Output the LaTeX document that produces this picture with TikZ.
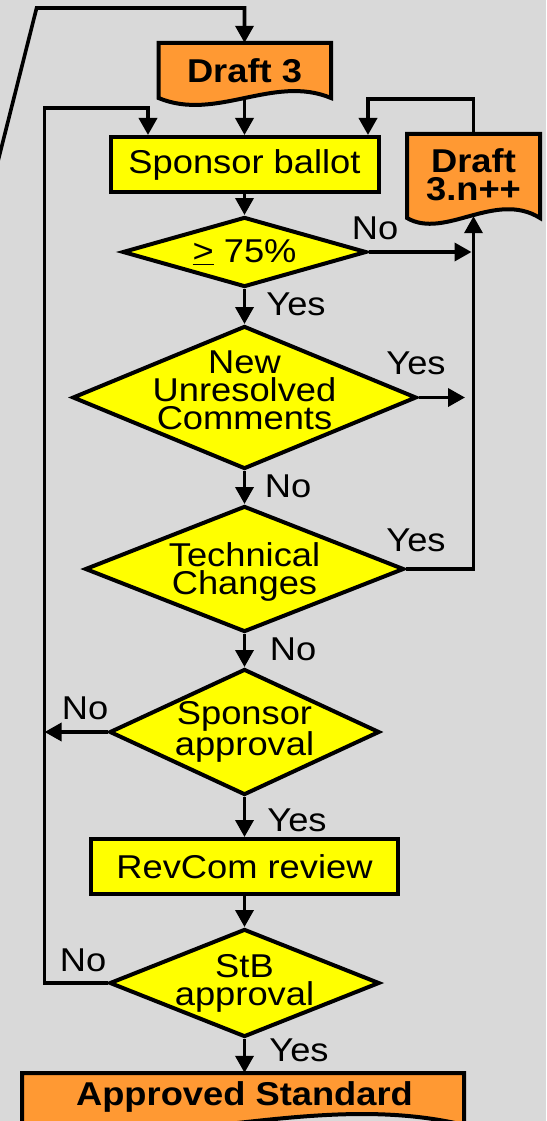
\documentclass[tikz,border=0pt]{standalone}
\usepackage{fontspec}
\setmainfont{Liberation Sans}[FakeStretch=1.1]
\usepackage{tikz}
\usetikzlibrary{arrows.meta,shapes.geometric}
\definecolor{bg}{HTML}{D9D9D9}
\definecolor{stepyellow}{HTML}{FFFF00}
\definecolor{docorange}{HTML}{FF9933}
\tikzset{
  line/.style={draw=black, line width=3.6pt},
  flow/.style={line, -{Triangle[length=17pt,width=18pt]}},
  procbox/.style={rectangle, draw=black, line width=4pt, fill=stepyellow, inner sep=0pt, font=\fontsize{33}{28}\selectfont},
  decision/.style={diamond, draw=black, line width=4pt, fill=stepyellow, inner sep=0pt},
  dtext/.style={align=center, inner sep=0pt, font=\fontsize{33}{28}\selectfont},
  docfill/.style={draw=black, line width=4pt, fill=docorange},
  doctext/.style={rectangle, inner sep=0pt, align=center, font=\bfseries\fontsize{33}{28}\selectfont},
  lbl/.style={inner sep=0pt, font=\fontsize{33}{28}\selectfont}
}

\begin{document}
\begin{tikzpicture}[x=1pt, y=-1pt]
  \useasboundingbox (0,0) rectangle (546,1121);
  \clip (0,0) rectangle (546,1121);
  \fill[bg] (0,0) rectangle (546,1121);

  % document outlines
  \filldraw[docfill] (158.5,43) -- (331,43) -- (331,98) .. controls (273.5,74) and (216,122) .. (158.5,98) -- cycle;
  \filldraw[docfill] (407,134) -- (540,134) -- (540,218) .. controls (495,190) and (445,240) .. (407,218) -- cycle;
  \filldraw[docfill] (22,1073) -- (464,1073) -- (464,1125) .. controls (317,1090) and (169,1152) .. (22,1128) -- cycle;

  \node[doctext, minimum width=172.5pt, minimum height=55pt] (draft3) at (244.5,70.5) {Draft 3};
  \node[doctext, minimum width=133pt, minimum height=82pt] (draftn) at (473.5,175) {Draft\\3.n++};
  \node[procbox, minimum width=268pt, minimum height=55pt] (ballot) at (244.5,164.5) {Sponsor ballot};
  \node[decision, minimum width=244pt, minimum height=70pt,
    label={[dtext]center:\underline{>} 75\%}] (pct) at (244.5,252) {};
  \node[decision, minimum width=344pt, minimum height=143pt,
    label={[dtext, yshift=7pt]center:New\\Unresolved\\Comments}] (newc) at (244.5,397.5) {};
  \node[decision, minimum width=319pt, minimum height=126pt,
    label={[dtext, yshift=-3pt]center:Technical\\Changes}] (tech) at (244.5,569) {};
  \node[decision, minimum width=270pt, minimum height=126pt,
    label={[dtext]center:Sponsor\\approval}] (spapp) at (244.5,732) {};
  \node[procbox, minimum width=307pt, minimum height=55pt] (revcom) at (244.5,866.5) {RevCom review};
  \node[decision, minimum width=270pt, minimum height=108pt,
    label={[dtext]center:StB\\approval}] (stb) at (244.5,983) {};
  \node[doctext, minimum width=442pt, minimum height=47pt] (approved) at (244.5,1096.5) {Approved Standard};

  \coordinate (loopstart) at (-5,173);
  \coordinate (topbend) at (36.6,8);
  \coordinate (lrail) at (44.6,108);
  \coordinate (lentry) at (148,108);
  \coordinate (rentry) at (368,99);
  \coordinate (newyes) at (465,397.5);

  \draw[flow] (loopstart) -- (topbend) -| (draft3.north);
  \draw[flow] (draft3.south) -- (ballot.north);
  \draw[flow] (ballot.south) -- (pct.north);
  \draw[flow, shorten >=2pt] (pct.east) -- (pct.east -| draftn.south);
  \draw[flow] (pct.south) -- (newc.north);
  \draw[flow] (newc.east) -- (newyes);
  \draw[flow] (newc.south) -- (tech.north);
  \draw[flow] (tech.east) -| (draftn.south);
  \draw[flow] (tech.south) -- (spapp.north);
  \draw[flow] (spapp.west) -- (spapp.west -| lrail);
  \draw[flow] (spapp.south) -- (revcom.north);
  \draw[flow] (revcom.south) -- (stb.north);
  \draw[flow] (stb.south) -- (approved.north);
  \draw[flow] (stb.west) -| (lrail) -- (lentry) -- (lentry |- ballot.north);
  \draw[flow] (draftn.north) |- (rentry) -- (rentry |- ballot.north);

  \node[lbl] (noA) at (375,228) {No};
  \node[lbl] (yesA) at (296,304) {Yes};
  \node[lbl] (yesB) at (416,363) {Yes};
  \node[lbl] (noB) at (288,486) {No};
  \node[lbl] (yesC) at (416,540) {Yes};
  \node[lbl] (noC) at (293,649) {No};
  \node[lbl] (noD) at (85,708) {No};
  \node[lbl] (yesD) at (297,820) {Yes};
  \node[lbl] (noE) at (83,960) {No};
  \node[lbl] (yesE) at (299,1050) {Yes};
\end{tikzpicture}
\end{document}
